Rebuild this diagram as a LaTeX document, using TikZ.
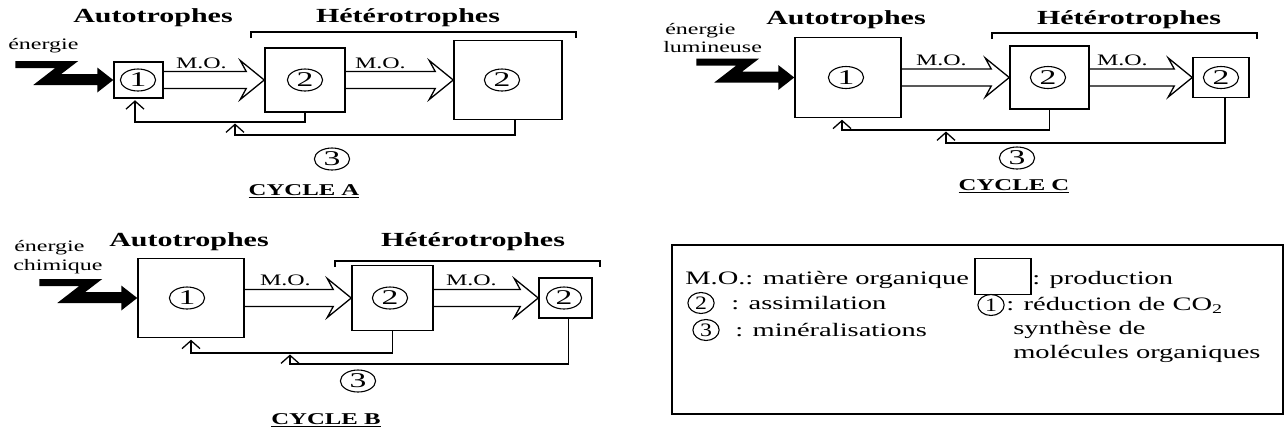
\documentclass[tikz,border=0pt]{standalone}
\usepackage{fontspec}
\setmainfont{Liberation Serif}
\usetikzlibrary{arrows.meta,calc}

% hollow "M.O." arrow from the east side of one box to the west side of the next
\newcommand{\moarrow}[2]{%
  \draw[mo] ($(#1.east)+(0,-8.5)$) -- ($(#2.west)+(-18,-8.5)$)
    -- ($(#2.west)+(-24,-19.5)$) -- (#2.west) -- ($(#2.west)+(-24,19.5)$)
    -- ($(#2.west)+(-18,8.5)$) -- ($(#1.east)+(0,8.5)$);}

\begin{document}
\begin{tikzpicture}[
  x=1pt,y=-1pt,
  prod/.style={draw,line width=1.5pt,inner sep=0pt},
  num/.style={draw,circle,line width=1.1pt,minimum size=22pt,inner sep=0pt,
    xscale=1.6,font=\fontsize{21}{21}\selectfont},
  legnum/.style={draw,circle,line width=1.1pt,minimum size=21pt,inner sep=0pt,
    xscale=1.25,font=\fontsize{19}{19}\selectfont},
  head/.style={font=\bfseries\fontsize{20}{22}\selectfont,xscale=1.5,inner sep=0pt},
  lab/.style={font=\fontsize{16}{18}\selectfont,xscale=1.5,inner sep=0pt},
  leg/.style={font=\fontsize{19}{22}\selectfont,xscale=1.5,inner sep=0pt,anchor=west},
  cyc/.style={font=\bfseries\fontsize{16.5}{18}\selectfont,xscale=1.5,inner sep=0pt},
  mo/.style={draw,line width=1.3pt,line join=miter},
  back/.style={draw,line width=1.5pt,shorten >=1.5pt,
    -{Straight Barb[length=8pt,width=18pt,line width=1.3pt]}},
  brk/.style={draw,line width=1.2pt},
  bolt/.pic={\fill (-98,-19) -- (-35,-19) -- (-52,-6) -- (-16,-6) -- (-16,-12.5)
    -- (0,0) -- (-16,12.5) -- (-16,5) -- (-80,5) -- (-58,-12) -- (-98,-12) -- cycle;}
]
  \path[use as bounding box,fill=white] (0,0) rectangle (1285,432);

  % Cycle A
  \node[head] (aAuto) at (153,18) {Autotrophes};
  \node[head] (aHet) at (408,18) {Hétérotrophes};
  \draw[brk] (251,38) -- (251,32) -- (576,32) -- (576,38);
  \node[lab,anchor=west] (aEn) at (8,46) {énergie};
  \node[prod,minimum width=49pt,minimum height=36pt] (a1) at (138.5,80) {};
  \node[prod,minimum width=80pt,minimum height=64pt] (a2) at (305,80) {};
  \node[prod,minimum width=108pt,minimum height=79pt] (a3) at (508,80) {};
  \node[num] (a1n) at (138,80) {1};
  \node[num] (a2n) at (305,80) {2};
  \node[num] (a3n) at (502,80) {2};
  \pic at (a1.west) {bolt};
  \moarrow{a1}{a2}
  \moarrow{a2}{a3}
  \node[lab,anchor=base west] (aMO1) at ($(a1.east)+(12,-12)$) {M.O.};
  \node[lab,anchor=base west] (aMO2) at ($(a2.east)+(9,-12)$) {M.O.};
  \coordinate (aR1) at (135,122);
  \coordinate (aR2) at (235,135);
  \draw[back] (a2.south) |- (aR1) -- (aR1 |- a1.south);
  \draw[back] ($(a3.south)+(7,0)$) |- (aR2) -- (aR2 |- aR1);
  \node[num] (a3m) at (332,159) {3};
  \node[cyc] (aCyc) at (304,191) {\underline{CYCLE A}};

  % Cycle B
  \node[head] (bAuto) at (189,242) {Autotrophes};
  \node[head] (bHet) at (473,242) {Hétérotrophes};
  \draw[brk] (335,267) -- (335,261) -- (600,261) -- (600,267);
  \node[lab,anchor=west] (bEn) at (14,248) {énergie};
  \node[lab,anchor=west] (bCh) at (13,267) {chimique};
  \node[prod,minimum width=106pt,minimum height=79pt] (b1) at (191,298) {};
  \node[prod,minimum width=81pt,minimum height=65pt] (b2) at (392.5,298) {};
  \node[prod,minimum width=53pt,minimum height=40pt] (b3) at (565.5,298) {};
  \node[num] (b1n) at (187,298) {1};
  \node[num] (b2n) at (390,298) {2};
  \node[num] (b3n) at (564,298) {2};
  \pic at (b1.west) {bolt};
  \moarrow{b1}{b2}
  \moarrow{b2}{b3}
  \node[lab,anchor=base west] (bMO1) at ($(b1.east)+(15,-13)$) {M.O.};
  \node[lab,anchor=base west] (bMO2) at ($(b2.east)+(12,-13)$) {M.O.};
  \coordinate (bR1) at (191,353);
  \coordinate (bR2) at (290,364);
  \draw[back] (b2.south) |- (bR1) -- (bR1 |- b1.south);
  \draw[back] ($(b3.south)+(3,0)$) |- (bR2) -- (bR2 |- bR1);
  \node[num] (b3m) at (358,381) {3};
  \node[cyc] (bCyc) at (326,420) {\underline{CYCLE B}};

  % Cycle C
  \node[head] (cAuto) at (846,20) {Autotrophes};
  \node[head] (cHet) at (1129,20) {Hétérotrophes};
  \draw[brk] (992,39) -- (992,33) -- (1257,33) -- (1257,39);
  \node[lab,anchor=west] (cEn) at (665,31) {énergie};
  \node[lab,anchor=west] (cLu) at (663,47) {lumineuse};
  \node[prod,minimum width=106pt,minimum height=80pt] (c1) at (848,77.5) {};
  \node[prod,minimum width=79pt,minimum height=63pt] (c2) at (1049.5,77.5) {};
  \node[prod,minimum width=56pt,minimum height=40pt] (c3) at (1221,77.5) {};
  \node[num] (c1n) at (846,77.5) {1};
  \node[num] (c2n) at (1048,77.5) {2};
  \node[num] (c3n) at (1221,77.5) {2};
  \pic at (c1.west) {bolt};
  \moarrow{c1}{c2}
  \moarrow{c2}{c3}
  \node[lab,anchor=base west] (cMO1) at ($(c1.east)+(14,-12)$) {M.O.};
  \node[lab,anchor=base west] (cMO2) at ($(c2.east)+(7,-12)$) {M.O.};
  \coordinate (cR1) at (842,130);
  \coordinate (cR2) at (946,143);
  \draw[back] (c2.south) |- (cR1) -- (cR1 |- c1.south);
  \draw[back] ($(c3.south)+(4,0)$) |- (cR2) -- (cR2 |- cR1);
  \node[num] (c3m) at (1017,158) {3};
  \node[cyc] (cCyc) at (1014,186) {\underline{CYCLE C}};

  % Legend
  \draw[brk] (672,245) rectangle (1283,414);
  \node[leg] (lMO) at (685,280) {M.O.: matière organique};
  \node[prod,line width=1.3pt,minimum width=56pt,minimum height=36pt] (lBox) at (1003,276.5) {};
  \node[leg] (lProd) at (1032,280) {: production};
  \node[legnum] (l2) at (701,303) {2};
  \node[leg] (lAss) at (731,303) {: assimilation};
  \node[legnum] (l3) at (706,330) {3};
  \node[leg] (lMin) at (735,330) {: minéralisations};
  \node[legnum] (l1) at (991,305) {1};
  \node[leg] (lRed) at (1006,305) {: réduction de CO\textsubscript{2}};
  \node[leg] (lSyn) at (1013,330) {synthèse de};
  \node[leg] (lMol) at (1013,354) {molécules organiques};
\end{tikzpicture}
\end{document}
